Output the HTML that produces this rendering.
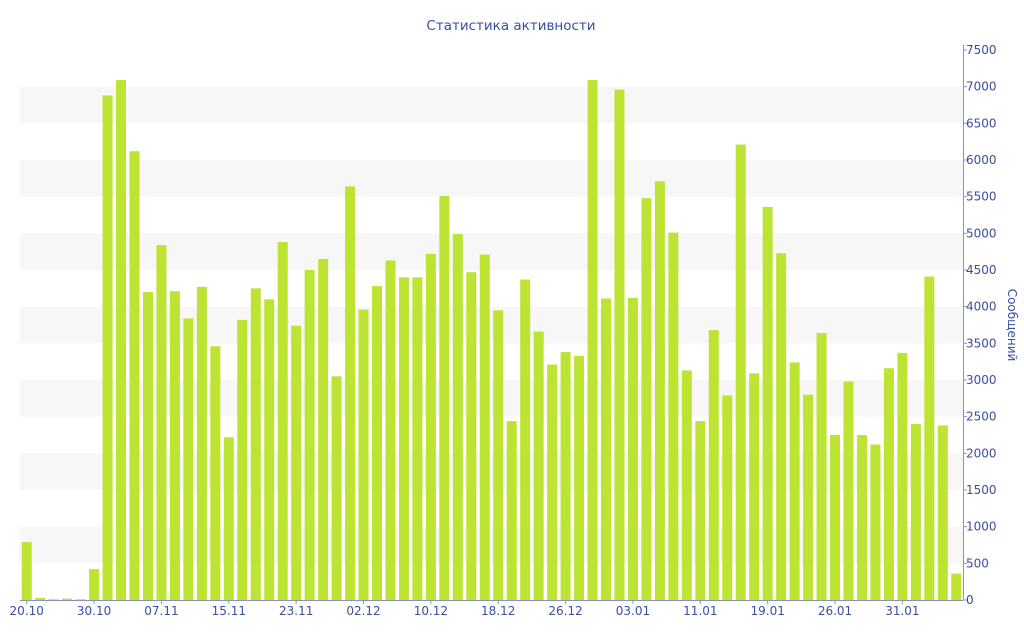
<!DOCTYPE html>
<html><head><meta charset="utf-8"><style>
body{margin:0;background:#fff;}
svg{display:block;font-family:"DejaVu Sans","Liberation Sans",sans-serif;}
</style></head><body>
<svg id="chart" width="1024" height="640">
<text x="511" y="30" text-anchor="middle" font-size="13.5" fill="#3a4ea0">Статистика активности</text>
<g id="grid"></g><g id="bars"></g><g id="xaxis"></g><g id="yaxis"></g>
<text transform="translate(1008,325) rotate(90)" text-anchor="middle" font-size="12" fill="#3a4ea0">Сообщений</text>
</svg>
<script>
const values=[790,30,10,20,10,420,6880,7090,6120,4200,4840,4210,3840,4270,3460,2220,3820,4250,4100,4880,3740,4500,4650,3050,5640,3960,4280,4630,4400,4400,4720,5510,4990,4470,4710,3950,2440,4370,3660,3210,3380,3330,7090,4110,6960,4120,5480,5710,5010,3130,2440,3680,2790,6210,3090,5360,4730,3240,2800,3640,2250,2980,2250,2120,3160,3370,2400,4410,2380,360];
const xLabels=["20.10","30.10","07.11","15.11","23.11","02.12","10.12","18.12","26.12","03.01","11.01","19.01","26.01","31.01"];
const yTicks=[0,500,1000,1500,2000,2500,3000,3500,4000,4500,5000,5500,6000,6500,7000,7500];
const NS="http://www.w3.org/2000/svg";
const L=20,R=963,T=50,B=600,YMAX=7500;
const band=(R-L)/values.length;
const y=v=>B-(v/YMAX)*(B-T);
const x=i=>L+band*(i+0.5);
function mk(tag,attrs,parent){const e=document.createElementNS(NS,tag);for(const k in attrs)e.setAttribute(k,attrs[k]);parent.appendChild(e);return e;}
const grid=document.getElementById('grid'),bars=document.getElementById('bars'),xa=document.getElementById('xaxis'),ya=document.getElementById('yaxis');
for(let v=500;v<YMAX;v+=1000){const r=mk('rect',{x:L,y:y(v+500),width:R-L,height:y(v)-y(v+500),fill:'#f7f7f7'},grid);

}
values.forEach((v,i)=>{const r=mk('rect',{x:x(i)-5,y:y(v),width:10,height:B-y(v),fill:'#bde333'},bars);

});
mk('line',{x1:L,y1:B+0.5,x2:R,y2:B+0.5,stroke:'#8a93b8'},xa);
xLabels.forEach((t,k)=>{const i=k<13?k*5:65;const cx=x(i);
mk('line',{x1:cx,y1:B,x2:cx,y2:B+4,stroke:'#8a93b8'},xa);
const e=mk('text',{x:cx,y:B+15,'text-anchor':'middle','font-size':12,fill:'#3a4ea0'},xa);e.textContent=t;

});
mk('line',{x1:R+0.5,y1:T-5,x2:R+0.5,y2:B,stroke:'#8a93b8'},ya);
yTicks.forEach(v=>{const yy=y(v);
mk('line',{x1:R,y1:yy,x2:R+4,y2:yy,stroke:'#8a93b8'},ya);
const e=mk('text',{x:R+3,y:yy+4,'font-size':12,fill:'#3a4ea0'},ya);e.textContent=v;

});
</script>
</body></html>
